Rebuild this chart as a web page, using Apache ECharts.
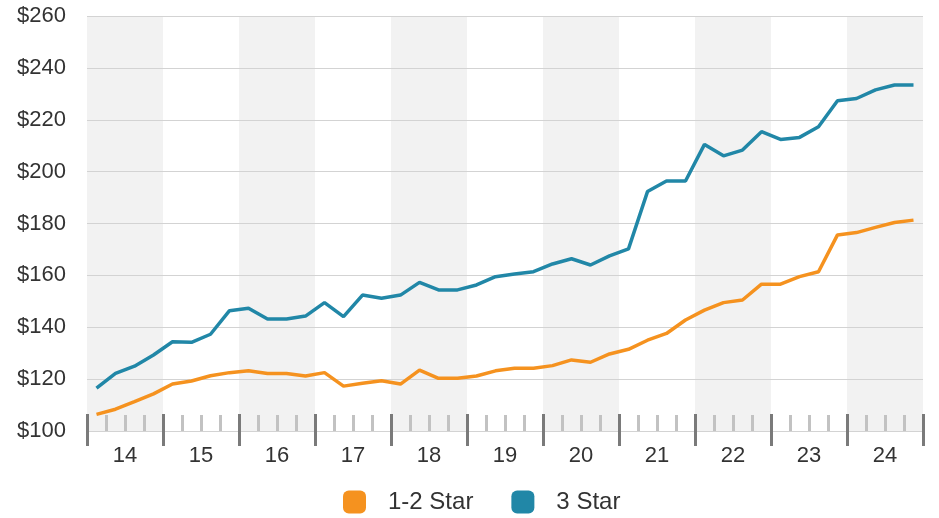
<!DOCTYPE html>
<html>
<head>
<meta charset="utf-8">
<script src="https://cdn.jsdelivr.net/npm/echarts@6/dist/echarts.min.js"></script>
<style>
  html, body { margin: 0; padding: 0; background: #fff; }
  #chart { width: 939px; height: 518px; }
</style>
</head>
<body>
<div id="chart"></div>
<script>
// Year labels (two-digit) and quarterly categories
const years = ['14', '15', '16', '17', '18', '19', '20', '21', '22', '23', '24'];
const quarters = [];
years.forEach(y => { ['Q1', 'Q2', 'Q3', 'Q4'].forEach(q => quarters.push(y + ' ' + q)); });

// Average quarterly rates, USD
const star12 = [
  106.4, 108.4, 111.3, 114.3, 118.1, 119.3, 121.3, 122.5, 123.2, 122.2, 122.2,
  121.2, 122.5, 117.3, 118.4, 119.4, 118.1, 123.5, 120.3, 120.3, 121.2, 123.2,
  124.2, 124.2, 125.2, 127.4, 126.5, 129.7, 131.5, 135.0, 137.6, 142.8, 146.6,
  149.5, 150.5, 156.6, 156.6, 159.5, 161.4, 175.6, 176.5, 178.5, 180.4, 181.3
];
const star3 = [
  116.5, 122.2, 125.0, 129.3, 134.4, 134.2, 137.3, 146.4, 147.3, 143.2, 143.2,
  144.3, 149.5, 144.1, 152.4, 151.2, 152.4, 157.3, 154.4, 154.4, 156.3, 159.5,
  160.5, 161.4, 164.4, 166.4, 164.0, 167.5, 170.2, 192.3, 196.4, 196.4, 210.5,
  206.1, 208.3, 215.4, 212.4, 213.2, 217.3, 227.3, 228.2, 231.5, 233.4, 233.4
];
const yTicks = { min: 100, max: 260, step: 20 };

const FONT = '"Liberation Sans", Arial, Helvetica, sans-serif';
const ORANGE = '#f5921f';
const BLUE = '#2187a7';

const chart = echarts.init(document.getElementById('chart'), null, { renderer: 'canvas' });
chart.setOption({
  animation: false,
  textStyle: { fontFamily: FONT },
  grid: { left: 87, right: 16, top: 16, bottom: 87 },
  legend: {
    top: 490,
    left: 343,
    padding: 0,
    icon: 'roundRect',
    itemWidth: 23,
    itemHeight: 23,
    itemGap: 38,
    textStyle: { fontSize: 24, color: '#333', fontFamily: FONT, padding: [0, 0, 0, 17] },
    data: ['1-2 Star', '3 Star']
  },
  xAxis: [
    {
      // quarterly axis: carries the data and the short quarter ticks
      type: 'category',
      data: quarters,
      boundaryGap: true,
      position: 'bottom',
      axisLine: { show: false },
      axisTick: {
        show: true, inside: true, length: 16,
        interval: (index) => index % 4 !== 0,
        lineStyle: { color: '#c2c2c2', width: 3 }
      },
      axisLabel: { show: false },
      splitLine: { show: false },
      z: 3
    },
    {
      // alternating year bands
      type: 'category',
      data: years,
      boundaryGap: true,
      position: 'bottom',
      axisLine: { show: false },
      axisTick: { show: false },
      axisLabel: { show: false },
      splitArea: { show: true, interval: 0, areaStyle: { color: ['#f2f2f2', '#ffffff'] } },
      splitLine: { show: false },
      z: 0
    },
    {
      // year labels and long year ticks
      type: 'category',
      data: years,
      boundaryGap: true,
      position: 'bottom',
      offset: -17,
      axisLine: { show: false },
      axisTick: { show: true, interval: 0, length: 32, lineStyle: { color: '#7a7a7a', width: 3 } },
      axisLabel: { show: true, interval: 0, margin: 31, fontSize: 22, color: '#333', fontFamily: FONT },
      splitLine: { show: false },
      z: 4
    }
  ],
  yAxis: {
    type: 'value',
    min: yTicks.min,
    max: yTicks.max,
    interval: yTicks.step,
    axisLine: { show: false },
    axisTick: { show: false },
    axisLabel: { margin: 21, fontSize: 22, color: '#333', fontFamily: FONT, formatter: v => '$' + v },
    splitLine: { show: true, lineStyle: { color: '#d3d3d3', width: 1 } },
    z: 1
  },
  series: [
    {
      name: '1-2 Star',
      type: 'line',
      xAxisIndex: 0,
      data: star12,
      showSymbol: false,
      color: ORANGE,
      lineStyle: { color: ORANGE, width: 3.5 },
      itemStyle: { color: ORANGE },
      z: 5
    },
    {
      name: '3 Star',
      type: 'line',
      xAxisIndex: 0,
      data: star3,
      showSymbol: false,
      color: BLUE,
      lineStyle: { color: BLUE, width: 3.5 },
      itemStyle: { color: BLUE },
      z: 5
    }
  ]
});
</script>
</body>
</html>
